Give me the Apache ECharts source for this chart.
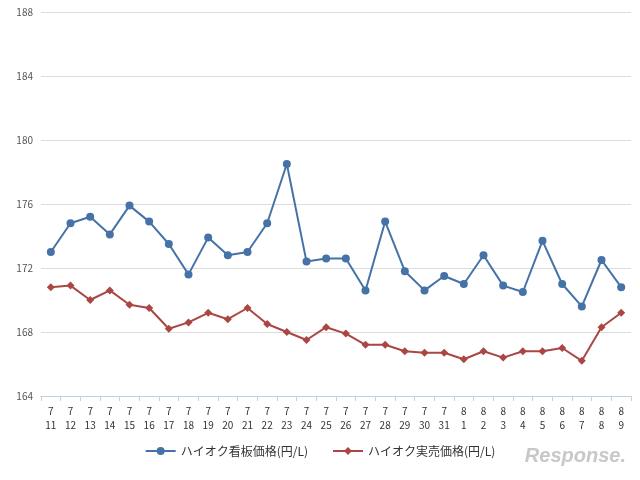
<!DOCTYPE html>
<html><head><meta charset="utf-8">
<script src="https://cdn.jsdelivr.net/npm/echarts@6/dist/echarts.min.js"></script>
<style>html,body{margin:0;padding:0;background:#fff}#c{width:640px;height:480px}</style>
</head><body><div id="c"></div>
<script>
const categories = ['7\n11','7\n12','7\n13','7\n14','7\n15','7\n16','7\n17','7\n18','7\n19','7\n20','7\n21','7\n22','7\n23','7\n24','7\n25','7\n26','7\n27','7\n28','7\n29','7\n30','7\n31','8\n1','8\n2','8\n3','8\n4','8\n5','8\n6','8\n7','8\n8','8\n9'];
const kanban = [173.0,174.8,175.2,174.1,175.9,174.9,173.5,171.6,173.9,172.8,173.0,174.8,178.5,172.4,172.6,172.6,170.6,174.9,171.8,170.6,171.5,171.0,172.8,170.9,170.5,173.7,171.0,169.6,172.5,170.8];
const jitsubai = [170.8,170.9,170.0,170.6,169.7,169.5,168.2,168.6,169.2,168.8,169.5,168.5,168.0,167.5,168.3,167.9,167.2,167.2,166.8,166.7,166.7,166.3,166.8,166.4,166.8,166.8,167.0,166.2,168.3,169.2];
const names = ['ハイオク看板価格(円/L)','ハイオク実売価格(円/L)'];
const chart = echarts.init(document.getElementById('c'));
chart.setOption({
  animation:false,
  textStyle:{fontFamily:'Noto Sans CJK JP'},
  grid:{left:41,right:9,top:12,bottom:84},
  legend:{bottom:18,itemGap:24,textStyle:{color:'#333',fontSize:12},
    data:names,itemWidth:30,itemHeight:10},
  xAxis:{type:'category',data:categories,
    axisLine:{lineStyle:{color:'#c0d0e0'}},axisTick:{show:true,lineStyle:{color:'#c0d0e0'}},
    axisLabel:{color:'#333',fontSize:10,interval:0,lineHeight:14}},
  yAxis:{type:'value',min:164,max:188,interval:4,
    axisLabel:{color:'#555',fontSize:10},
    splitLine:{lineStyle:{color:'#dddddd'}},axisLine:{show:false},axisTick:{show:false}},
  series:[
    {name:names[0],type:'line',data:kanban,color:'#4572A7',symbol:'circle',symbolSize:8,lineStyle:{width:2}},
    {name:names[1],type:'line',data:jitsubai,color:'#AA4643',symbol:'diamond',symbolSize:8,lineStyle:{width:2}}
  ],
  graphic:[{type:'text',right:14,bottom:14,style:{text:'Response.',fill:'#c8c8c8',font:'italic bold 20px Liberation Sans'}}]
});
</script></body></html>
